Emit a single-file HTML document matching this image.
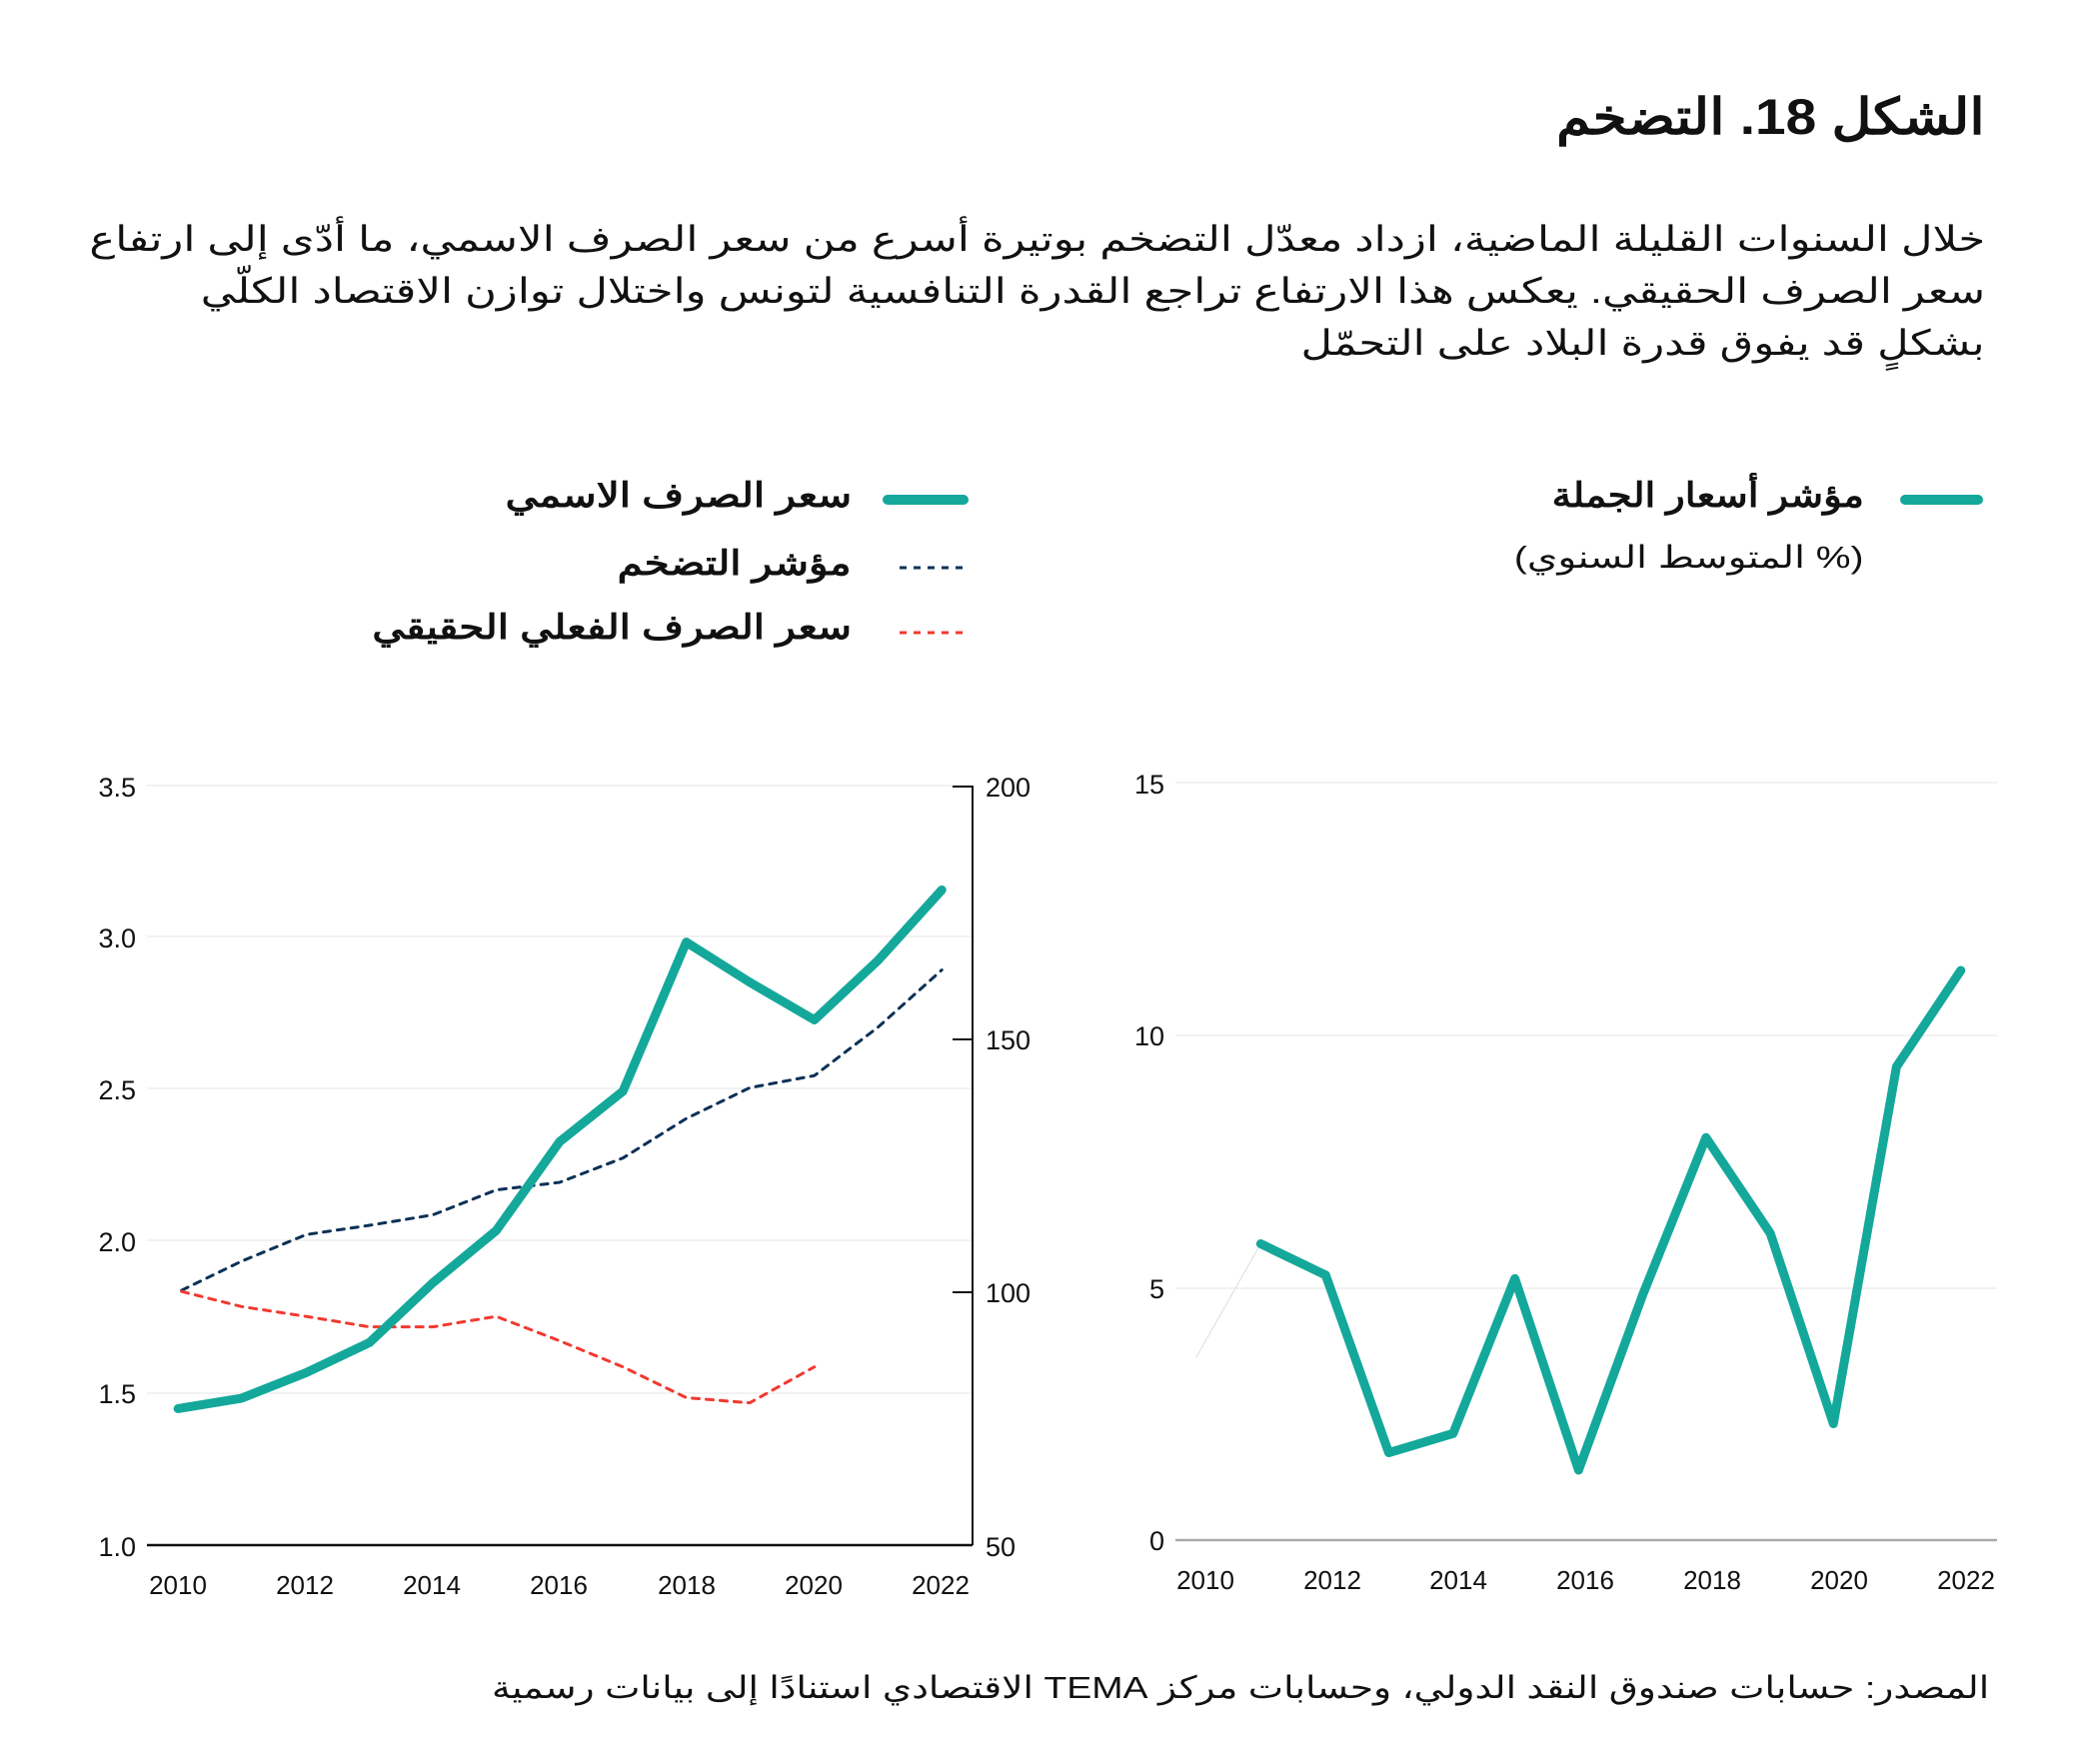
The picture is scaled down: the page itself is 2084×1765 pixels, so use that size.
<!DOCTYPE html>
<html><head><meta charset="utf-8"><style>
body{margin:0;background:#fff;}
#p{position:relative;width:2084px;height:1765px;overflow:hidden;font-family:"Liberation Sans","Noto Sans CJK SC",sans-serif;color:#111;}
.t{position:absolute;direction:rtl;text-align:right;white-space:nowrap;transform-origin:right center;}
</style></head><body><div id="p">
<div class="t" style="right:98px;top:88px;font-size:50px;font-weight:bold;transform:scaleX(1.1);">الشكل 18. التضخم</div>
<div class="t" style="right:98px;top:220px;font-size:35px;transform:scaleX(1.238);">خلال السنوات القليلة الماضية، ازداد معدّل التضخم بوتيرة أسرع من سعر الصرف الاسمي، ما أدّى إلى ارتفاع</div>
<div class="t" style="right:98px;top:272px;font-size:35px;transform:scaleX(1.238);">سعر الصرف الحقيقي. يعكس هذا الارتفاع تراجع القدرة التنافسية لتونس واختلال توازن الاقتصاد الكلّي</div>
<div class="t" style="right:98px;top:324px;font-size:35px;transform:scaleX(1.238);">بشكلٍ قد يفوق قدرة البلاد على التحمّل</div>
<div class="t" style="right:219px;top:476px;font-size:34px;font-weight:bold;transform:scaleX(1.14);">مؤشر أسعار الجملة</div>
<div class="t" style="right:219px;top:540px;font-size:31px;transform:scaleX(1.26);">(% المتوسط السنوي)</div>
<div class="t" style="right:1232px;top:476px;font-size:34px;font-weight:bold;transform:scaleX(1.19);">سعر الصرف الاسمي</div>
<div class="t" style="right:1232px;top:544px;font-size:34px;font-weight:bold;transform:scaleX(1.19);">مؤشر التضخم</div>
<div class="t" style="right:1232px;top:608px;font-size:34px;font-weight:bold;transform:scaleX(1.19);">سعر الصرف الفعلي الحقيقي</div>
<div class="t" style="right:94px;top:1671px;font-size:31px;transform:scaleX(1.21);">المصدر: حسابات صندوق النقد الدولي، وحسابات مركز TEMA الاقتصادي استنادًا إلى بيانات رسمية</div>
<svg width="2084" height="1765" style="position:absolute;left:0;top:0" font-family="Liberation Sans, sans-serif" font-size="27" fill="#111">
<line x1="1906" y1="500" x2="1979" y2="500" stroke="#14a89b" stroke-width="10" stroke-linecap="round"/>
<line x1="888" y1="500" x2="964" y2="500" stroke="#14a89b" stroke-width="10" stroke-linecap="round"/>
<line x1="900" y1="568" x2="967" y2="568" stroke="#0c3157" stroke-width="3" stroke-dasharray="7 7"/>
<line x1="900" y1="633" x2="967" y2="633" stroke="#f03a30" stroke-width="3" stroke-dasharray="7 7"/>
<g stroke="#eeeeee" stroke-width="1.5">
<line x1="147" y1="786" x2="973" y2="786"/><line x1="147" y1="937" x2="973" y2="937"/><line x1="147" y1="1089" x2="973" y2="1089"/><line x1="147" y1="1241" x2="973" y2="1241"/><line x1="147" y1="1394" x2="973" y2="1394"/>
<line x1="1176" y1="783" x2="1998" y2="783"/><line x1="1176" y1="1036" x2="1998" y2="1036"/><line x1="1176" y1="1289" x2="1998" y2="1289"/>
</g>
<line x1="147" y1="1546" x2="973" y2="1546" stroke="#111" stroke-width="2.5"/>
<line x1="973" y1="786" x2="973" y2="1546" stroke="#111" stroke-width="2"/>
<g stroke="#111" stroke-width="2"><line x1="953" y1="787" x2="973" y2="787"/><line x1="953" y1="1040" x2="973" y2="1040"/><line x1="953" y1="1293" x2="973" y2="1293"/></g>
<line x1="1176" y1="1541" x2="1998" y2="1541" stroke="#aaa" stroke-width="2.5"/>
<g text-anchor="end"><text x="136" y="797">3.5</text><text x="136" y="948">3.0</text><text x="136" y="1100">2.5</text><text x="136" y="1252">2.0</text><text x="136" y="1404">1.5</text><text x="136" y="1557">1.0</text>
<text x="1165" y="794">15</text><text x="1165" y="1046">10</text><text x="1165" y="1299">5</text><text x="1165" y="1551">0</text></g>
<text x="986" y="797">200</text><text x="986" y="1050">150</text><text x="986" y="1303">100</text><text x="986" y="1557">50</text>
<g text-anchor="middle" font-size="26"><text x="178" y="1595">2010</text><text x="305" y="1595">2012</text><text x="432" y="1595">2014</text><text x="559" y="1595">2016</text><text x="687" y="1595">2018</text><text x="814" y="1595">2020</text><text x="941" y="1595">2022</text>
<text x="1206" y="1590">2010</text><text x="1333" y="1590">2012</text><text x="1459" y="1590">2014</text><text x="1586" y="1590">2016</text><text x="1713" y="1590">2018</text><text x="1840" y="1590">2020</text><text x="1967" y="1590">2022</text></g>
<g transform="translate(0,700) scale(0.7042,0.5806)" fill="none" stroke-linejoin="round" stroke-linecap="round">
<polyline vector-effect="non-scaling-stroke" stroke="#0c3157" stroke-width="3" stroke-dasharray="7 7" points="258,1018 343,968 435,922 525,906 615,888 705,845 795,832 885,790 975,722 1065,669 1157,648 1247,565 1338,466"/>
<polyline vector-effect="non-scaling-stroke" stroke="#f03a30" stroke-width="3" stroke-dasharray="7 7" points="258,1020 343,1046 435,1063 525,1081 615,1081 705,1063 795,1105 885,1150 975,1203 1065,1212 1157,1150"/>
<polyline vector-effect="non-scaling-stroke" stroke="#14a89b" stroke-width="9" points="253,1222 343,1204 435,1160 525,1108 615,1005 705,915 795,762 885,675 975,418 1065,487 1157,552 1247,450 1338,328"/>
</g>
<g transform="translate(1096,697) scale(0.631,0.5806)" fill="none" stroke-linejoin="round" stroke-linecap="round">
<polyline vector-effect="non-scaling-stroke" stroke="#ddd" stroke-width="1" points="160,1138 262,943"/>
<polyline vector-effect="non-scaling-stroke" stroke="#14a89b" stroke-width="9" points="262,943 365,997 465,1303 567,1270 665,1003 766,1333 868,1030 968,760 1070,925 1170,1253 1270,638 1372,472"/>
</g>
</svg>
</div></body></html>
